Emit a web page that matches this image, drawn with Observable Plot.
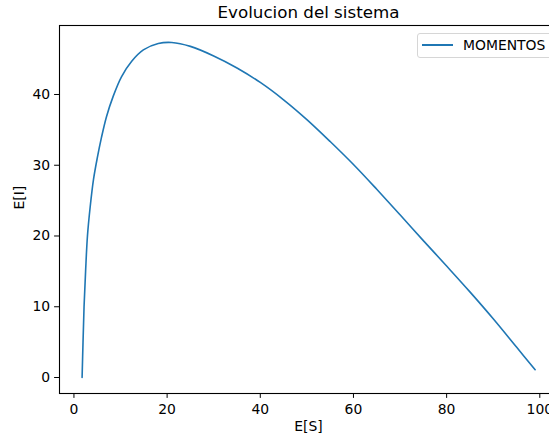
<!DOCTYPE html>
<html><head><meta charset="utf-8">
<script src="https://cdn.jsdelivr.net/npm/d3@7"></script>
<script src="https://cdn.jsdelivr.net/npm/@observablehq/plot@0.6"></script>
<style>
html,body{margin:0;padding:0;background:#fff;}
#wrap{position:relative;width:549px;height:443px;overflow:hidden;font-family:"DejaVu Sans",sans-serif;}
#legend{position:absolute;left:417px;top:33px;width:140px;height:25px;box-sizing:border-box;border:1px solid #d6d6d6;border-radius:3px;background:rgba(255,255,255,0.8);}
#legend .sw{position:absolute;left:4px;top:10px;width:31px;height:1.5px;background:#1f77b4;}
#legend .lb{position:absolute;left:45px;top:3px;font-size:13.9px;line-height:16px;color:#000;white-space:nowrap;}
</style></head><body>
<div id="wrap"></div>
<script>
const seriesName = "MOMENTOS";
const titleText = "Evolucion del sistema";
const xLabel = "E[S]";
const yLabel = "E[I]";
const xTicks = [0, 20, 40, 60, 80, 100];
const yTicks = [0, 10, 20, 30, 40];
const ES = [99.0, 95.0, 90.0, 85.0, 80.0, 75.0, 70.0, 65.0, 60.0, 55.0, 50.0, 45.0, 40.0, 35.0, 30.0, 25.0, 21.0, 18.1, 14.9, 12.4, 10.2, 8.4, 7.0, 5.9, 5.0, 4.2, 3.5, 2.9, 2.5, 2.17, 1.95, 1.75];
const EI = [1.1, 4.3, 8.3, 12.1, 15.75, 19.35, 23.0, 26.6, 30.1, 33.35, 36.45, 39.25, 41.7, 43.75, 45.45, 46.8, 47.35, 47.2, 46.3, 44.7, 42.5, 39.7, 36.9, 33.9, 31.0, 28.0, 24.2, 20.0, 15.0, 10.0, 5.0, 0];

const data = ES.map((s, k) => ({s, i: EI[k]}));
const fs = 13.9;

const chart = Plot.plot({
  width: 549,
  height: 443,
  marginLeft: 59,
  marginRight: -8,
  marginTop: 25,
  marginBottom: 50,
  style: {fontFamily: "DejaVu Sans, sans-serif", fontSize: fs + "px", color: "#000", background: "#fff", overflow: "hidden"},
  x: {domain: [-3.1, 103.8]},
  y: {domain: [-2.26, 49.75]},
  marks: [
    Plot.line(data, {x: "s", y: "i", stroke: "#1f77b4", strokeWidth: 1.6, curve: "catmull-rom"}),
    Plot.frame({stroke: "#000", strokeWidth: 1.1}),
    Plot.axisX({ticks: xTicks, tickSize: 4.9, tickPadding: 6, fontSize: fs, label: null, tickFormat: d => String(d)}),
    Plot.axisY({ticks: yTicks, tickSize: 4.9, tickPadding: 4.5, fontSize: fs, label: null, tickFormat: d => String(d)}),
    Plot.text([xLabel], {frameAnchor: "bottom", dy: 37, text: d => d, fontSize: fs, fill: "#000"}),
    Plot.text([yLabel], {frameAnchor: "left", dx: -40, rotate: -90, text: d => d, fontSize: fs, fill: "#000"}),
    Plot.text([titleText], {frameAnchor: "top", dy: -19, text: d => d, fontSize: 16.7, fill: "#000"})
  ]
});
const wrap = document.getElementById("wrap");
wrap.appendChild(chart);
const leg = document.createElement("div");
leg.id = "legend";
leg.innerHTML = '<div class="sw"></div><div class="lb"></div>';
leg.querySelector(".lb").textContent = seriesName;
wrap.appendChild(leg);
</script>
</body></html>
